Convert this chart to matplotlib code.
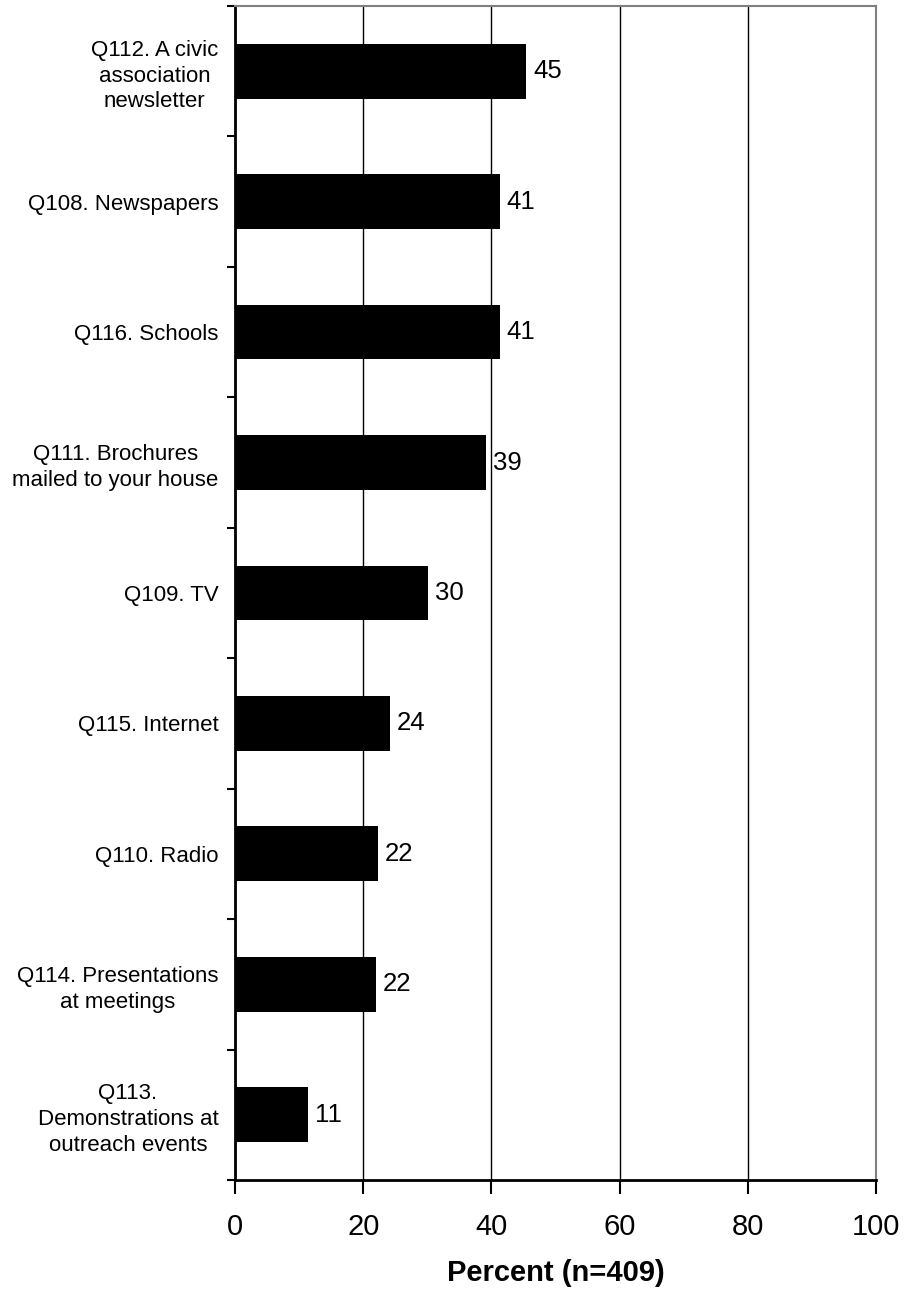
import matplotlib
matplotlib.use('Agg')
import matplotlib.pyplot as plt
import numpy as np

plt.rcParams['font.family'] = ['Liberation Sans', 'DejaVu Sans']

# categories, top to bottom
categories = ['Q112. A civic\nassociation\nnewsletter',
              'Q108. Newspapers',
              'Q116. Schools',
              'Q111. Brochures\nmailed to your house',
              'Q109. TV',
              'Q115. Internet',
              'Q110. Radio',
              'Q114. Presentations\nat meetings',
              'Q113.\nDemonstrations at\noutreach events']
percent = [45.4, 41.3, 41.3, 39.2, 30.1, 24.2, 22.3, 22.0, 11.4]
xticks = [0, 20, 40, 60, 80, 100]

fig = plt.figure(figsize=(9.06, 12.91), dpi=100)
ax = fig.add_axes([0.2594, 0.086, 0.7075, 0.9094])

n = len(categories)
ypos = np.arange(n)
ax.barh(ypos, percent, height=0.42, color='black', zorder=3)

for y, v in zip(ypos, percent):
    ax.text(v + 1.1, y, f'{v:.0f}', va='center', ha='left', fontsize=18.5)

ax.set_ylim(n - 0.5, -0.5)
ax.set_xlim(0, 100)

# category labels between tick marks at band edges
ax.set_yticks(np.arange(n + 1) - 0.5)
ax.set_yticklabels([])
ax.set_yticks(ypos, minor=True)
ax.set_yticklabels(categories, minor=True, fontsize=16, multialignment='center', linespacing=1.3)
ax.tick_params(axis='y', which='minor', length=0, pad=12)
ax.tick_params(axis='y', which='major', length=6, width=1.5, direction='out')

ax.set_xticks(xticks)
ax.set_xticklabels([str(t) for t in xticks], fontsize=21)
ax.tick_params(axis='x', length=10, width=1.5, direction='out', pad=14)
ax.xaxis.grid(True, color='black', linewidth=1, zorder=0)

ax.spines['left'].set_linewidth(2)
ax.spines['bottom'].set_linewidth(2)
ax.spines['top'].set_color('#808080')
ax.spines['right'].set_color('#808080')
ax.spines['top'].set_linewidth(1.5)
ax.spines['right'].set_linewidth(1.5)

ax.set_xlabel('Percent (n=409)', fontsize=21, fontweight='bold', labelpad=13)

fig.savefig('out.png', dpi=100)
